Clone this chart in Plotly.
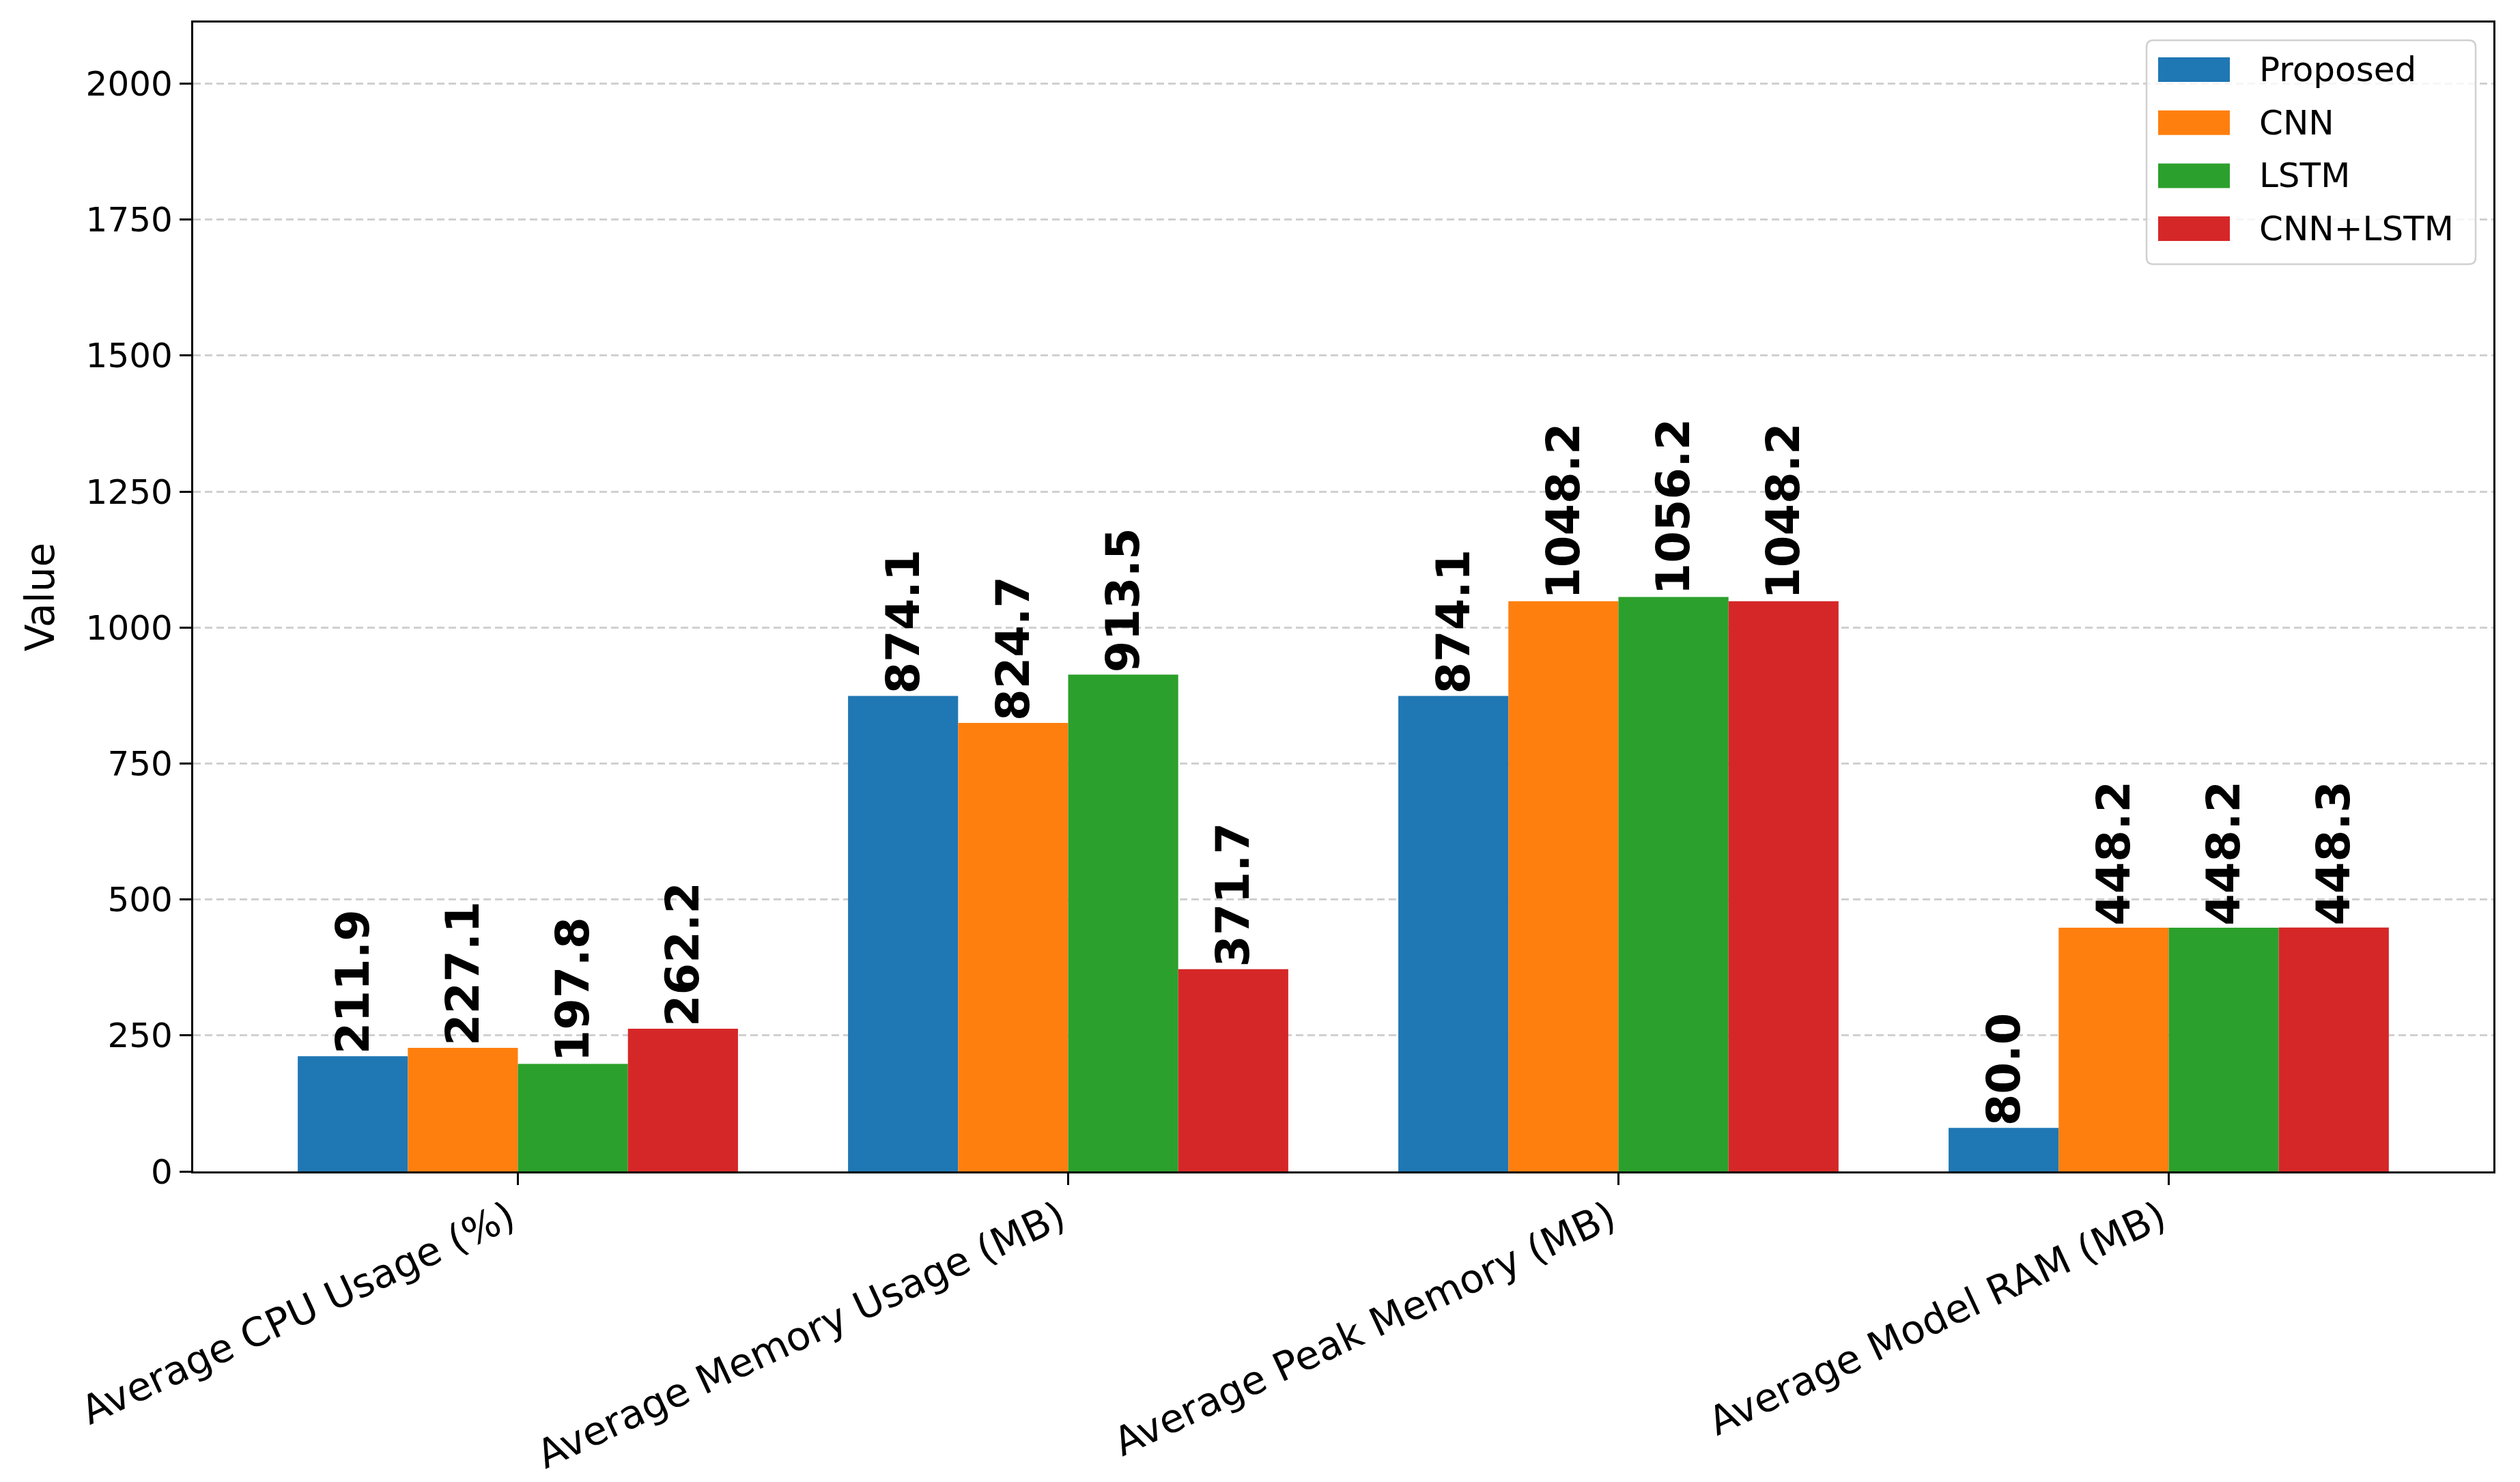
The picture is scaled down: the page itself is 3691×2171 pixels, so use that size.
import plotly.graph_objects as go

categories = ["Average CPU Usage (%)", "Average Memory Usage (MB)",
              "Average Peak Memory (MB)", "Average Model RAM (MB)"]
series_names = ["Proposed", "CNN", "LSTM", "CNN+LSTM"]
proposed = [211.9, 874.1, 874.1, 80.0]
cnn = [227.1, 824.7, 1048.2, 448.2]
lstm = [197.8, 913.5, 1056.2, 448.2]
cnn_lstm = [262.2, 371.7, 1048.2, 448.3]
series_values = [proposed, cnn, lstm, cnn_lstm]
colors = ["#1f77b4", "#ff7f0e", "#2ca02c", "#d62728"]
y_ticks = [0, 250, 500, 750, 1000, 1250, 1500, 1750, 2000]

W, H = 3691, 2171
L, R, T, B = 283, 39, 33, 455
PW, PH = W - L - R, H - T - B
FONT = "DejaVu Sans"

fig = go.Figure()
xs = list(range(len(categories)))
for name, vals, col in zip(series_names, series_values, colors):
    fig.add_trace(go.Bar(
        x=xs, y=vals, name=name, marker=dict(color=col, line=dict(width=0)),
        text=[f"{v:.1f}" for v in vals], texttemplate="%{text}",
        textposition="outside", textangle=-90, constraintext="none",
        cliponaxis=False,
        textfont=dict(family=FONT, size=67, color="black", weight="bold"),
        showlegend=False,
    ))

ymax = max(max(v) for v in series_values) * 2

fig.update_layout(
    width=W, height=H, autosize=False,
    margin=dict(l=L, r=R, t=T, b=B, pad=0, autoexpand=False),
    paper_bgcolor="white", plot_bgcolor="white",
    barmode="group", bargap=0.2, bargroupgap=0,
    font=dict(family=FONT, color="black"),
    showlegend=False,
)
fig.update_xaxes(
    tickmode="array", tickvals=xs, ticktext=categories, tickangle=-25,
    range=[-0.59, 3.59], showgrid=False, zeroline=False, automargin=False,
    showline=True, linecolor="black", linewidth=3.3, mirror=True,
    ticks="outside", ticklen=17, tickwidth=3.3, tickcolor="black",
    ticklabelstandoff=-8, ticklabelshift=-12,
    tickfont=dict(family=FONT, size=58, color="black"),
)
fig.update_yaxes(
    range=[0, ymax], tickmode="array", tickvals=y_ticks,
    ticktext=[str(v) for v in y_ticks], automargin=False,
    showgrid=True, gridcolor="#d0d0d0", gridwidth=2.5, griddash="11px,6px",
    zeroline=False,
    showline=True, linecolor="black", linewidth=3.3, mirror=True,
    ticks="outside", ticklen=17, tickwidth=3.3, tickcolor="black",
    tickfont=dict(family=FONT, size=50, color="black"),
    title=dict(text="Value", font=dict(family=FONT, size=58, color="black"), standoff=28),
)

# custom legend (pixel layout converted to paper coordinates)
def px_x(px):
    return (px - L) / PW

def px_y(py):
    return (H - B - py) / PH

bx0, bx1, by0, by1, rr = 3144, 3626, 59, 387, 10
path = (f"M {px_x(bx0 + rr)} {px_y(by0)} L {px_x(bx1 - rr)} {px_y(by0)} "
        f"Q {px_x(bx1)} {px_y(by0)} {px_x(bx1)} {px_y(by0 + rr)} "
        f"L {px_x(bx1)} {px_y(by1 - rr)} Q {px_x(bx1)} {px_y(by1)} {px_x(bx1 - rr)} {px_y(by1)} "
        f"L {px_x(bx0 + rr)} {px_y(by1)} Q {px_x(bx0)} {px_y(by1)} {px_x(bx0)} {px_y(by1 - rr)} "
        f"L {px_x(bx0)} {px_y(by0 + rr)} Q {px_x(bx0)} {px_y(by0)} {px_x(bx0 + rr)} {px_y(by0)} Z")
fig.add_shape(type="path", path=path, xref="paper", yref="paper",
              fillcolor="rgba(255,255,255,0.8)", line=dict(color="#d0d0d0", width=2.5),
              layer="above")

row_y0, row_dy = 102, 77.7
for i, (name, col) in enumerate(zip(series_names, colors)):
    cy = row_y0 + i * row_dy
    fig.add_shape(type="rect", xref="paper", yref="paper",
                  x0=px_x(3161), x1=px_x(3266), y0=px_y(cy - 18), y1=px_y(cy + 18),
                  fillcolor=col, line=dict(width=0), layer="above")
    fig.add_annotation(x=px_x(3307), y=px_y(cy), xref="paper", yref="paper",
                       text=name, showarrow=False, xanchor="left", yanchor="middle",
                       font=dict(family=FONT, size=50, color="black"))

fig.write_html("out.html")
